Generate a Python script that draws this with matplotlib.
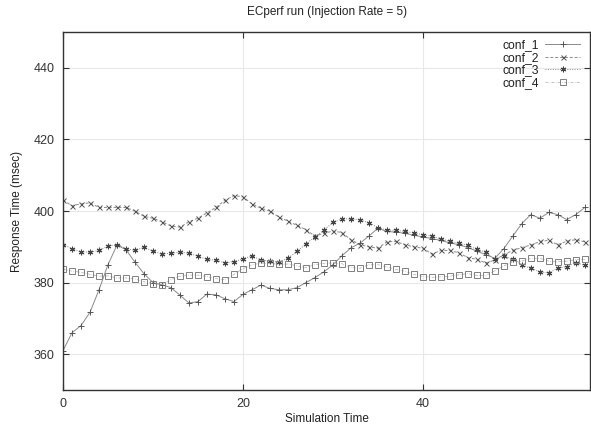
import matplotlib
matplotlib.use("Agg")
import matplotlib.pyplot as plt
import numpy as np

plt.rcParams['font.family'] = ['Liberation Sans', 'DejaVu Sans']

title = "ECperf run (Injection Rate = 5)"
xlabel = "Simulation Time"
ylabel = "Response Time (msec)"
labels = ["conf_1", "conf_2", "conf_3", "conf_4"]
x_ticks = [0, 20, 40]
y_ticks = [360, 380, 400, 420, 440]

time = list(range(59))

conf_1 = [361, 366, 368, 371.7, 378, 385, 390.5, 389.2, 385.7, 382.5,
          380, 379.4, 378.6, 376.5, 374.3, 374.7, 376.8, 376.6, 375.5, 374.7,
          376.7, 378, 379.3, 378.4, 378, 378, 378.6, 380, 381.4, 383,
          385, 387.5, 389.7, 391, 393, 395.2, 394.3, 394.1, 393.8, 393.2,
          392.8, 392.3, 391.8, 391.1, 390.6, 389.8, 388.8, 387.8, 386.8, 389.5,
          393, 396.5, 399, 398, 399.6, 399, 397.6, 399, 401]

conf_2 = [403, 401.5, 402, 402.3, 401, 401, 401, 401, 400, 398.5,
          398, 397, 395.8, 395.5, 397, 398, 399.5, 401, 403, 404.3,
          404, 402, 400.8, 400, 398.3, 397.2, 396, 394.8, 393, 393.8,
          394.4, 394, 392, 390.6, 390, 389.6, 391.4, 391.5, 390.6, 390,
          389.6, 388, 389, 389, 388.3, 387, 386.5, 385.5, 386.3, 387.8,
          389, 389.8, 390.5, 391.5, 391.8, 390.6, 391.6, 392, 391.4]

conf_3 = [390.6, 389.5, 388.6, 388.5, 389, 390.2, 390.6, 389.5, 389, 389.9,
          388.8, 388, 388.2, 388.5, 388.2, 387.4, 386.5, 386.3, 385.5, 385.9,
          386.6, 387.5, 386.3, 386, 385.7, 386.8, 388.7, 390.8, 392.8, 394.7,
          396.8, 397.8, 397.8, 397.6, 396.7, 395.4, 394.7, 394.6, 394.3, 393.9,
          393.4, 393, 392.2, 391.6, 391, 390.4, 389.3, 388.5, 386.5, 387.5,
          386.5, 385, 384, 383, 382.7, 384, 384.5, 385.6, 384.8]

conf_4 = [383.8, 383.2, 382.9, 382.3, 381.8, 381.9, 381.3, 381.3, 381, 380.3,
          379.7, 379.4, 380.8, 381.8, 382.1, 382.1, 381.7, 381.1, 380.8, 382.3,
          383.9, 385, 385.4, 385.4, 385.1, 385.2, 384.7, 384.2, 385, 385.4,
          385.5, 385.3, 384.2, 384, 385, 385, 384.4, 383.7, 383.2, 382.3,
          381.7, 381.5, 381.6, 381.8, 382.2, 382.5, 382, 382, 383.3, 384.7,
          385.8, 386, 386.8, 386.8, 386, 385.8, 386, 386.4, 386.5]

fig = plt.figure(figsize=(5.91, 4.28), dpi=100)
ax = fig.add_axes([0.1066, 0.0888, 0.892, 0.8362])

lc = '#8a8a8a'
mc = '#555555'
ax.plot(time, conf_1, color=lc, lw=0.7, ls='-', marker='+', ms=4, mec=mc, mew=0.7, label=labels[0])
ax.plot(time, conf_2, color=lc, lw=0.7, ls=(0, (3, 2)), marker='x', ms=3.6, mec=mc, mew=0.7, label=labels[1])
ax.plot(time, conf_3, color=lc, lw=0.7, ls=(0, (1, 1.5)), marker=(6, 2, 0), ms=4, mec='#444444', mew=0.8, label=labels[2])
ax.plot(time, conf_4, color='#aaaaaa', lw=0.5, ls=(0, (4, 2, 1, 2)), marker='s', ms=4.5, mfc='none', mec='#808080', mew=0.7, label=labels[3])

ax.set_xlim(0, 58.6)
ax.set_ylim(350, 450)
ax.set_xticks(x_ticks)
ax.set_yticks(y_ticks)
ax.grid(True, color='#e8e8e8', lw=0.8)
ax.set_axisbelow(True)
ax.tick_params(direction='in', length=4, width=0.8, colors='#333333', labelsize=9,
               top=True, right=True, pad=6)
for s in ax.spines.values():
    s.set_color('#333333')
    s.set_linewidth(1.0)

ax.set_title(title, fontsize=8.5, pad=12, color='#222222')
ax.set_xlabel(xlabel, fontsize=8.5, labelpad=2, color='#222222')
ax.set_ylabel(ylabel, fontsize=8.5, labelpad=8, color='#222222')

leg = ax.legend(loc='upper right', frameon=False, markerfirst=False, fontsize=8.7,
                handlelength=2.9, handletextpad=0.5, labelspacing=0.05,
                borderaxespad=0.2, bbox_to_anchor=(0.995, 1.0))
for t in leg.get_texts():
    t.set_color('#222222')

fig.savefig("out.png", dpi=100)
